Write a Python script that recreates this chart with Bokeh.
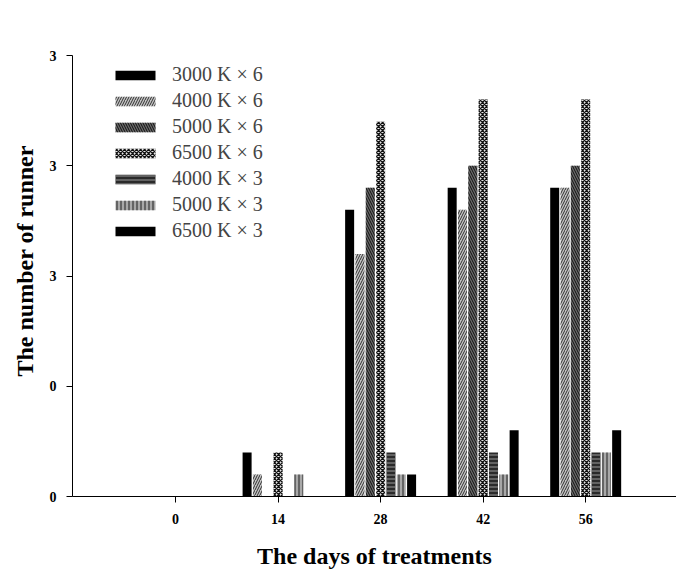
from bokeh.plotting import figure
from bokeh.models import ColumnDataSource, Range1d, FixedTicker, Legend, LegendItem, Title
from bokeh.transform import dodge
from bokeh.embed import file_html
from bokeh.resources import INLINE

days = [0, 14, 28, 42, 56]
day_labels = ["0", "14", "28", "42", "56"]
series_names = ["3000 K \u00d7 6", "4000 K \u00d7 6", "5000 K \u00d7 6", "6500 K \u00d7 6",
                "4000 K \u00d7 3", "5000 K \u00d7 3", "6500 K \u00d7 3"]
s3000x6 = [0.0, 0.4, 2.6, 2.8, 2.8]
s4000x6 = [0.0, 0.2, 2.2, 2.6, 2.8]
s5000x6 = [0.0, 0.0, 2.8, 3.0, 3.0]
s6500x6 = [0.0, 0.4, 3.4, 3.6, 3.6]
s4000x3 = [0.0, 0.0, 0.4, 0.4, 0.4]
s5000x3 = [0.0, 0.2, 0.2, 0.2, 0.4]
s6500x3 = [0.0, 0.0, 0.2, 0.6, 0.6]
y_ticks = [0, 1, 2, 3, 4]
y_tick_labels = ["0", "0", "3", "3", "3"]
x_title = "The days of treatments"
y_title = "The number of runner"

keys = ["a", "b", "c", "d", "e", "f", "g"]
series = [s3000x6, s4000x6, s5000x6, s6500x6, s4000x3, s5000x3, s6500x3]
data = {"day": days}
for k, s in zip(keys, series):
    data[k] = s
src = ColumnDataSource(data)

styles = [
    dict(fill_color="black", hatch_pattern=None),
    dict(fill_color="#c4c4c4", hatch_pattern="/", hatch_color="#303030", hatch_scale=5, hatch_weight=1),
    dict(fill_color="#6a6a6a", hatch_pattern="\\", hatch_color="#101010", hatch_scale=5, hatch_weight=1),
    dict(fill_color="#e6e6e6", hatch_pattern="x", hatch_color="#101010", hatch_scale=4, hatch_weight=1.3),
    dict(fill_color="#2a2a2a", hatch_pattern="-", hatch_color="#9a9a9a", hatch_scale=4, hatch_weight=1),
    dict(fill_color="#a8a8a8", hatch_pattern="|", hatch_color="#202020", hatch_scale=4, hatch_weight=1),
    dict(fill_color="black", hatch_pattern=None),
]

p = figure(width=676, height=575, output_backend="svg", toolbar_location=None,
           x_range=Range1d(-14.07, 68.4), y_range=Range1d(0, 4),
           min_border_left=72, min_border_right=0, min_border_top=55, min_border_bottom=79)
p.outline_line_color = None
p.xgrid.visible = False
p.ygrid.visible = False

step = 1.41
bw = 1.23
items = []
for i, (k, st) in enumerate(zip(keys, styles)):
    kw = {kk: vv for kk, vv in st.items() if vv is not None}
    r = p.vbar(x=dodge("day", (i - 3) * step, range=p.x_range), top=k, width=bw, source=src,
               line_color=None, **kw)
    items.append(LegendItem(label=series_names[i], renderers=[r]))

legend = Legend(items=items, location=(38, 254))
legend.glyph_width = 50
legend.glyph_height = 12
legend.label_height = 20
legend.spacing = 3
legend.padding = 0
legend.margin = 0
legend.border_line_color = None
legend.background_fill_alpha = 0
legend.label_text_font = "Liberation Serif"
legend.label_text_font_size = "20px"
legend.label_standoff = 12
p.add_layout(legend)

tick_font = "Liberation Serif"
p.xaxis.ticker = FixedTicker(ticks=days)
p.xaxis.major_label_overrides = {d: l for d, l in zip(days, day_labels)}
p.yaxis.ticker = FixedTicker(ticks=y_ticks)
p.yaxis.major_label_overrides = {t: l for t, l in zip(y_ticks, y_tick_labels)}
for ax in (p.xaxis[0], p.yaxis[0]):
    ax.minor_tick_line_color = None
    ax.major_tick_in = 0
    ax.major_tick_out = 6
    ax.axis_line_color = "black"
    ax.major_tick_line_color = "black"
    ax.major_label_text_font = tick_font
    ax.major_label_text_font_style = "bold"
    ax.major_label_text_font_size = "14px"
    ax.major_label_text_color = "black"
    ax.axis_label_text_font = tick_font
    ax.axis_label_text_font_style = "bold"
    ax.axis_label_text_font_size = "24px"
    ax.axis_label_text_color = "black"
p.xaxis.major_label_standoff = 11
p.yaxis.major_label_standoff = 10
p.xaxis.axis_label = x_title
p.xaxis.axis_label_standoff = 16

ytitle = Title(text=y_title, align="left", offset=120, standoff=17,
               text_font="Liberation Serif", text_font_style="bold", text_font_size="24px",
               text_color="black")
p.add_layout(ytitle, "left")

open("out.html", "w").write(file_html(p, INLINE))
